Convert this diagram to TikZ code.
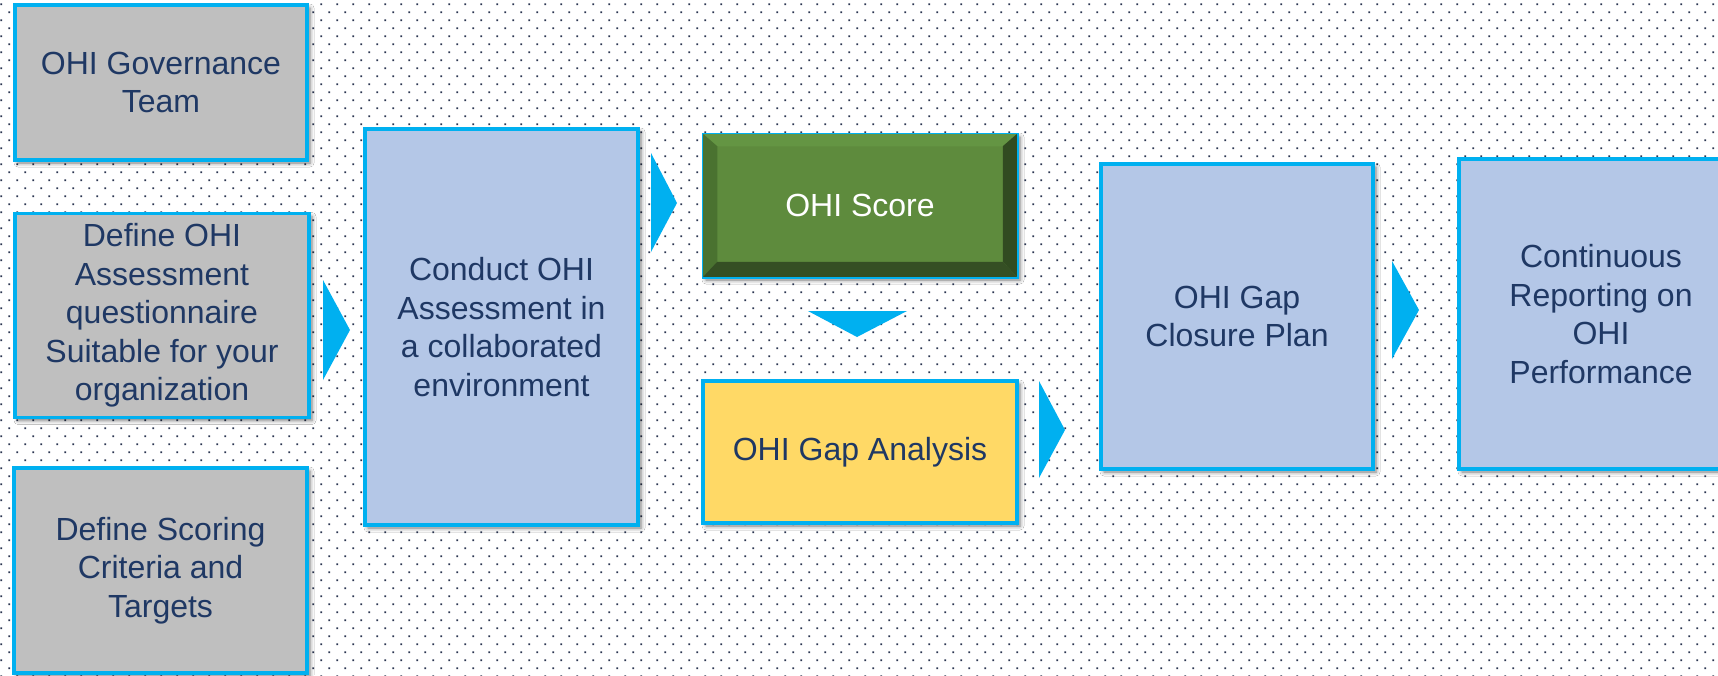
\documentclass[tikz,border=0pt]{standalone}
\usepackage{fontspec}
\setmainfont{Liberation Sans}
\usetikzlibrary{calc,shadows.blur}
\definecolor{cyanb}{HTML}{00B0F0}
\definecolor{navy}{HTML}{1F3864}
\definecolor{dotc}{HTML}{2A3550}
\definecolor{greyf}{HTML}{BFBFBF}
\definecolor{bluef}{HTML}{B4C7E7}
\definecolor{yellf}{HTML}{FFD966}
\definecolor{gface}{HTML}{5E8B3D}
\definecolor{gtop}{HTML}{649543}
\definecolor{gleft}{HTML}{4A7230}
\definecolor{gright}{HTML}{314B21}
\definecolor{gbot}{HTML}{354F24}
\newcommand{\ohifont}{\fontsize{32}{38.4}\selectfont}
\tikzset{
  ohibox/.style={draw=cyanb, line width=3.4pt, inner sep=0pt, align=center,
    font=\ohifont, text=navy,
    blur shadow={shadow xshift=3pt, shadow yshift=-3pt, shadow blur radius=4pt, shadow opacity=55}},
  greybox/.style={ohibox, fill=greyf},
  bluebox/.style={ohibox, fill=bluef},
  yellbox/.style={ohibox, fill=yellf},
  greenbox/.style={ohibox, fill=gface, line width=1.5pt, text=white},
  chevron/.style={fill=cyanb}
}
\begin{document}
\begin{tikzpicture}[x=1pt,y=-1pt]
\useasboundingbox (0,0) rectangle (1718,675);
\clip (0,0) rectangle (1718,675);
\fill[white] (0,0) rectangle (1718,675);
% dotted background
\foreach \j in {0,...,42}{
  \fill[dotc] foreach \i in {0,...,107}{
    (16*\i+0.4,16*\j+3.4) rectangle ++(1.8,1.8)
    (16*\i+8.4,16*\j+11.4) rectangle ++(1.8,1.8)
  };
}
% boxes
\node[greybox, minimum width=292pt, minimum height=155pt] (gov) at (161,82.5) {OHI Governance\\Team};
\node[greybox, minimum width=294pt, minimum height=204pt] (def) at (162,315.5) {Define OHI\\Assessment\\questionnaire\\Suitable for your\\organization};
\node[greybox, minimum width=293pt, minimum height=205pt] (score) at (160.5,570.5) {Define Scoring\\Criteria and\\Targets};
\node[bluebox, minimum width=273pt, minimum height=396pt] (conduct) at (501.5,327) {Conduct OHI\\Assessment in\\a collaborated\\environment};
\node[greenbox, minimum width=314pt, minimum height=143pt] (ohis) at (860,205.5) {};
\node[yellbox, minimum width=314pt, minimum height=142pt] (gapa) at (860,452) {OHI Gap Analysis};
\node[bluebox, minimum width=272pt, minimum height=305pt] (plan) at (1237,316.5) {OHI Gap\\Closure Plan};
\node[bluebox, minimum width=284pt, minimum height=310pt] (report) at (1601,314) {Continuous\\Reporting on\\OHI\\Performance};
% bevel of the OHI Score box
\coordinate (nw) at (ohis.north west);
\coordinate (ne) at (ohis.north east);
\coordinate (se) at (ohis.south east);
\coordinate (sw) at (ohis.south west);
\coordinate (inw) at ($(nw)+(15,13)$);
\coordinate (ine) at ($(ne)+(-15,13)$);
\coordinate (ise) at ($(se)+(-15,-16)$);
\coordinate (isw) at ($(sw)+(15,-16)$);
\fill[gtop] (nw) -- (ne) -- (ine) -- (inw) -- cycle;
\fill[gleft] (nw) -- (inw) -- (isw) -- (sw) -- cycle;
\fill[gright] (ne) -- (se) -- (ise) -- (ine) -- cycle;
\fill[gbot] (sw) -- (isw) -- (ise) -- (se) -- cycle;
\draw[cyanb, line width=1.5pt] (nw) rectangle (se);
\node[font=\ohifont, text=white] (ohistext) at (ohis.center) {OHI Score};
% chevron arrows
\fill[chevron] (323,280) -- (350,330) -- (323,380) -- cycle;
\fill[chevron] (651,153) -- (677,203) -- (651,252) -- cycle;
\fill[chevron] (808,311) -- (907,311) -- (857,337) -- cycle;
\fill[chevron] (1039,381) -- (1065,430) -- (1039,478) -- cycle;
\fill[chevron] (1392,261) -- (1419,310) -- (1392,359) -- cycle;
\end{tikzpicture}
\end{document}
